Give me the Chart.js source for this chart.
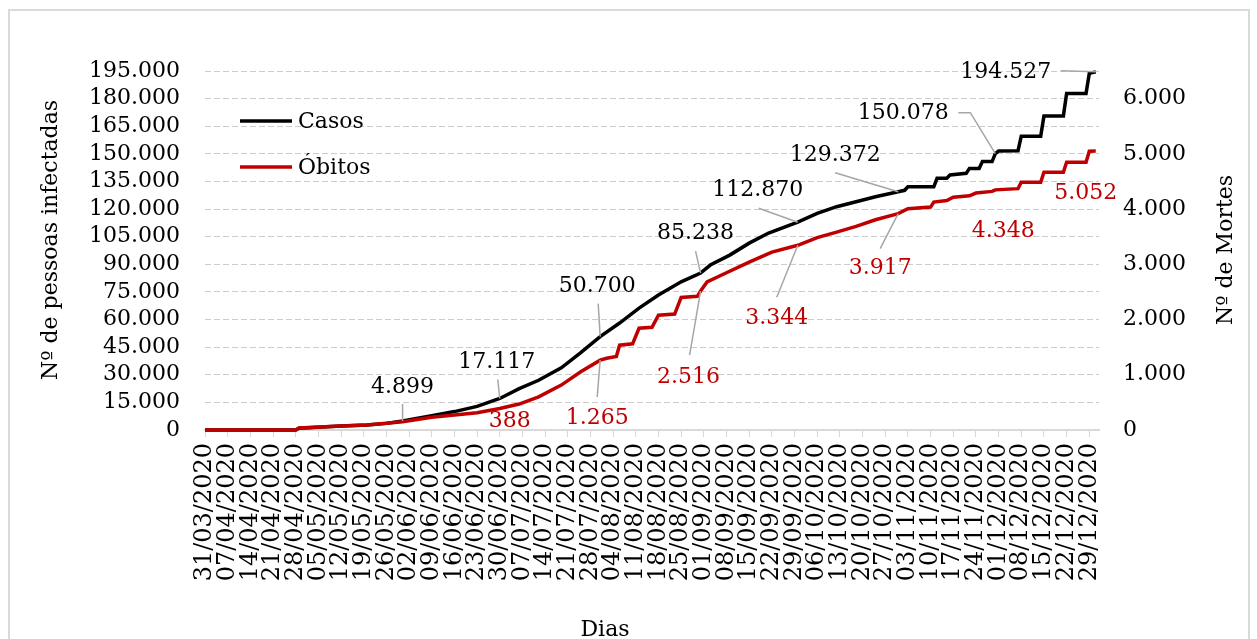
<!DOCTYPE html>
<html lang="pt-BR">
<head>
<meta charset="utf-8">
<title>Casos e óbitos</title>
<script src="https://cdn.jsdelivr.net/npm/chart.js@4.4.1/dist/chart.umd.min.js"></script>
<style>
  html, body { margin: 0; padding: 0; background: #fff; }
  #grafico { display: block; }
</style>
</head>
<body>
<canvas id="grafico" width="1257" height="639"></canvas>
<script>
// rótulos semanais do eixo X (dia 0 = 31/03/2020)
const rotulosDias = [
  "31/03/2020", "07/04/2020", "14/04/2020", "21/04/2020", "28/04/2020",
  "05/05/2020", "12/05/2020", "19/05/2020", "26/05/2020", "02/06/2020",
  "09/06/2020", "16/06/2020", "23/06/2020", "30/06/2020", "07/07/2020",
  "14/07/2020", "21/07/2020", "28/07/2020", "04/08/2020", "11/08/2020",
  "18/08/2020", "25/08/2020", "01/09/2020", "08/09/2020", "15/09/2020",
  "22/09/2020", "29/09/2020", "06/10/2020", "13/10/2020", "20/10/2020",
  "27/10/2020", "03/11/2020", "10/11/2020", "17/11/2020", "24/11/2020",
  "01/12/2020", "08/12/2020", "15/12/2020", "22/12/2020", "29/12/2020"
];

const ticksCasos = [0, 15000, 30000, 45000, 60000, 75000, 90000, 105000, 120000,
  135000, 150000, 165000, 180000, 195000];
const ticksMortes = [0, 1000, 2000, 3000, 4000, 5000, 6000];

// casos acumulados (dias desde 31/03/2020)
const diasCasos = [0, 28, 29, 42, 50, 56, 61, 70, 77, 84, 91, 97, 103, 110, 116, 122,
  128, 134, 140, 147, 153, 156, 162, 168, 174, 183, 189, 195, 201, 207, 214, 216, 217,
  225, 226, 229, 230, 235, 236, 239, 240, 243, 244, 245, 251, 252, 258, 259, 265, 266,
  272, 273, 275];
const casos = [0, 0, 1000, 2200, 2700, 3600, 4899, 7800, 10000, 12800, 17117, 22500,
  27000, 33800, 42000, 50700, 58100, 66200, 73300, 80500, 85238, 89600, 95000, 101500,
  107000, 112870, 117700, 121300, 124000, 126700, 129372, 130200, 132100, 132100,
  136700, 136700, 138500, 139400, 142100, 142100, 145800, 145800, 150078, 151500,
  151700, 159600, 159600, 170500, 170500, 182800, 182800, 193700, 194527];

// óbitos acumulados
const diasObitos = [0, 28, 29, 42, 50, 61, 70, 77, 84, 91, 97, 103, 110, 116, 122,
  124, 127, 128, 132, 134, 138, 140, 145, 147, 152, 153, 155, 160, 168, 175, 183, 189,
  195, 201, 207, 214, 217, 224, 225, 229, 231, 236, 238, 243, 244, 251, 252, 258, 259,
  265, 266, 272, 273, 275];
const obitos = [0, 0, 36, 72, 90, 150, 230, 271, 313, 388, 470, 600, 813, 1053, 1265,
  1300, 1330, 1536, 1560, 1843, 1860, 2078, 2100, 2400, 2420, 2516, 2680, 2820, 3040,
  3222, 3344, 3482, 3583, 3686, 3806, 3917, 4006, 4036, 4126, 4156, 4216, 4240, 4290,
  4320, 4348, 4370, 4487, 4487, 4668, 4668, 4848, 4848, 5047, 5052];

// dias que recebem rótulo de dados
const diasRotuloCasos = [61, 91, 122, 153, 183, 214, 244, 275];
const diasRotuloObitos = [91, 122, 153, 183, 214, 244, 275];

const FONTE = "DejaVu Serif";
const VERMELHO = "#c00000";
const CINZA = "#d9d9d9";

function fmt(v) {
  return String(Math.round(v)).replace(/\B(?=(\d{3})+(?!\d))/g, ".");
}

// posição de cada rótulo em relação ao ponto (dx, dy) e linha guia
const posRotuloCasos = [
  { dx: 0, dy: -34, guia: [[0, 17]] },
  { dx: -3, dy: -36, guia: [[1, 17]] },
  { dx: -3, dy: -50, guia: [[1, 17]] },
  { dx: -5, dy: -40, guia: [[0, 18]] },
  { dx: -40, dy: -32, guia: [[1, 18]] },
  { dx: -63, dy: -37, guia: [[0, 18]] },
  { dx: -92, dy: -40, guia: [[55, -1], [67, -1]] },
  { dx: -90, dy: 0, guia: [[55, -1]] },
];
const posRotuloObitos = [
  { dx: 10, dy: 13, guia: null },
  { dx: -3, dy: 58, guia: [[0, -21]] },
  { dx: -12, dy: 86, guia: [[1, -22]] },
  { dx: -21, dy: 73, guia: [[0, -21]] },
  { dx: -18, dy: 55, guia: [[0, -20]] },
  { dx: 8, dy: 41, guia: null },
  { dx: -10, dy: 42, guia: null },
];

const molduraPlugin = {
  id: "moldura",
  beforeDraw(chart) {
    const ctx = chart.ctx;
    ctx.save();
    ctx.fillStyle = "#fff";
    ctx.fillRect(0, 0, chart.width, chart.height);
    ctx.strokeStyle = CINZA;
    ctx.lineWidth = 2;
    ctx.strokeRect(9, 10, 1240, 700);
    ctx.restore();
  },
};

function desenhaRotulos(chart, dias, valores, escalaY, diasRot, pos, cor) {
  const ctx = chart.ctx;
  const sx = chart.scales.x;
  const sy = chart.scales[escalaY];
  diasRot.forEach((d, k) => {
    const i = dias.indexOf(d);
    const px = sx.getPixelForValue(d);
    const py = sy.getPixelForValue(valores[i]);
    const p = pos[k];
    const lx = px + p.dx;
    const ly = py + p.dy;
    if (p.guia) {
      ctx.beginPath();
      ctx.strokeStyle = "#a6a6a6";
      ctx.lineWidth = 1.5;
      ctx.moveTo(lx + p.guia[0][0], ly + p.guia[0][1]);
      for (let j = 1; j < p.guia.length; j++) {
        ctx.lineTo(lx + p.guia[j][0], ly + p.guia[j][1]);
      }
      ctx.lineTo(px, py);
      ctx.stroke();
    }
    ctx.fillStyle = cor;
    ctx.fillText(fmt(valores[i]), lx, ly);
  });
}

const rotulosPlugin = {
  id: "rotulos",
  afterDatasetsDraw(chart) {
    const ctx = chart.ctx;
    ctx.save();
    ctx.font = "22px '" + FONTE + "'";
    ctx.textAlign = "center";
    ctx.textBaseline = "middle";
    desenhaRotulos(chart, diasCasos, casos, "y", diasRotuloCasos, posRotuloCasos, "#000");
    desenhaRotulos(chart, diasObitos, obitos, "y1", diasRotuloObitos, posRotuloObitos, VERMELHO);
    ctx.restore();
  },
  afterDraw(chart) {
    const ctx = chart.ctx;
    ctx.save();
    // legenda
    ctx.lineWidth = 3.5;
    ctx.strokeStyle = "#000";
    ctx.beginPath(); ctx.moveTo(240, 121); ctx.lineTo(292, 121); ctx.stroke();
    ctx.strokeStyle = VERMELHO;
    ctx.beginPath(); ctx.moveTo(240, 167); ctx.lineTo(292, 167); ctx.stroke();
    ctx.font = "22px '" + FONTE + "'";
    ctx.fillStyle = "#000";
    ctx.textAlign = "left";
    ctx.textBaseline = "middle";
    ctx.fillText("Casos", 298, 122);
    ctx.fillText("Óbitos", 298, 168);
    // títulos dos eixos
    ctx.textAlign = "center";
    ctx.font = "22px '" + FONTE + "'";
    ctx.save();
    ctx.translate(51, 240);
    ctx.rotate(-Math.PI / 2);
    ctx.fillText("Nº de pessoas infectadas", 0, 0);
    ctx.restore();
    ctx.save();
    ctx.translate(1226, 250);
    ctx.rotate(-Math.PI / 2);
    ctx.fillText("Nº de Mortes", 0, 0);
    ctx.restore();
    ctx.fillText("Dias", 605, 630);
    ctx.restore();
  },
};

Chart.defaults.font.family = FONTE;

new Chart(document.getElementById("grafico"), {
  type: "line",
  data: {
    datasets: [
      {
        label: "Casos",
        data: diasCasos.map((d, i) => ({ x: d, y: casos[i] })),
        yAxisID: "y",
        borderColor: "#000",
        backgroundColor: "#000",
        borderWidth: 3.5,
        pointRadius: 0,
        tension: 0,
        clip: false,
        order: 1,
      },
      {
        label: "Óbitos",
        data: diasObitos.map((d, i) => ({ x: d, y: obitos[i] })),
        yAxisID: "y1",
        borderColor: VERMELHO,
        backgroundColor: VERMELHO,
        borderWidth: 3.5,
        pointRadius: 0,
        tension: 0,
        clip: false,
        order: 0,
      },
    ],
  },
  options: {
    responsive: false,
    animation: false,
    devicePixelRatio: 1,
    layout: { padding: { top: 71, left: 0, right: 0, bottom: 0 } },
    plugins: {
      legend: { display: false },
      tooltip: { enabled: false },
    },
    scales: {
      x: {
        type: "linear",
        min: 0,
        max: 276,
        afterBuildTicks: (s) => { s.ticks = rotulosDias.map((_, i) => ({ value: i * 7 })); },
        afterFit: (s) => { s.height = 209; },
        ticks: {
          autoSkip: false,
          maxRotation: 90,
          minRotation: 90,
          padding: 6,
          color: "#000",
          font: { size: 24 },
          callback: (v, i) => rotulosDias[i],
        },
        grid: { drawOnChartArea: false, drawTicks: true, tickLength: 7, color: CINZA, lineWidth: 1 },
        border: { display: true, color: CINZA, width: 2 },
      },
      y: {
        position: "left",
        min: 0,
        max: 195000,
        afterBuildTicks: (s) => { s.ticks = ticksCasos.map((v) => ({ value: v })); },
        afterFit: (s) => { s.width = 205; },
        ticks: { autoSkip: false, padding: 25, color: "#000", font: { size: 22 }, callback: (v) => fmt(v) },
        grid: { drawTicks: false, color: "#cccccc", lineWidth: 1 },
        border: { display: false, dash: [6, 3] },
      },
      y1: {
        position: "right",
        min: 0,
        max: 6500,
        afterBuildTicks: (s) => { s.ticks = ticksMortes.map((v) => ({ value: v })); },
        afterFit: (s) => { s.width = 158; },
        ticks: { autoSkip: false, padding: 24, color: "#000", font: { size: 22 }, callback: (v) => fmt(v) },
        grid: { display: false, drawTicks: false },
        border: { display: false },
      },
    },
  },
  plugins: [molduraPlugin, rotulosPlugin],
});
</script>
</body>
</html>
